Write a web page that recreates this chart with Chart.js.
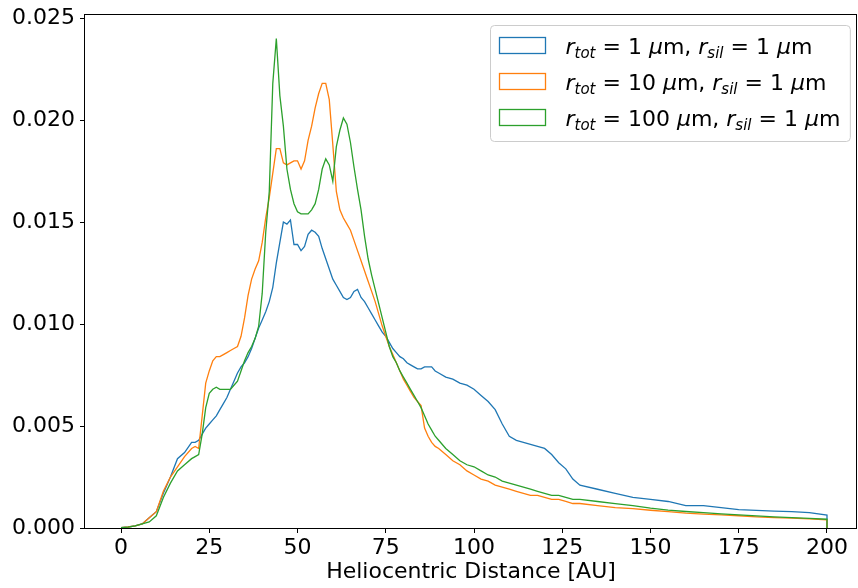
<!DOCTYPE html>
<html>
<head>
<meta charset="utf-8">
<script src="https://cdn.jsdelivr.net/npm/chart.js@4.4.1/dist/chart.umd.min.js"></script>
<style>
html,body{margin:0;padding:0;background:#fff;}
canvas{display:block;}
</style>
</head>
<body>
<canvas id="c" width="858" height="588"></canvas>
<script>
// ---------- data ----------
const distance = [0,2,4,6,8,10,12,14,16,18,20,
21,22,23,24,25,26,27,28,29,30,
31,32,33,34,35,36,37,38,39,40,
41,42,43,44,45,46,47,48,49,50,
51,52,53,54,55,56,57,58,59,60,
61,62,63,64,65,66,67,68,69,70,
71,72,73,74,75,76,77,78,79,80,
81,82,83,84,85,86,87,88,89,90,
92,94,96,98,100,102,104,106,108,110,
112,114,116,118,120,122,124,126,128,130,
135,140,145,150,155,160,165,170,175,180,185,190,195,200];

const series1um = [0.00002,0.00005,0.0001,0.0002,0.0005,0.0008,0.0017,0.0025,0.0034,0.0037,0.0042,
0.0042,0.0043,0.0046,0.0049,0.0051,0.0053,0.0055,0.0058,0.0061,0.0064,
0.0068,0.0072,0.0076,0.0079,0.0081,0.0084,0.0088,0.0093,0.0098,0.0102,
0.0106,0.0111,0.0118,0.0130,0.0140,0.0150,0.0149,0.0151,0.0139,0.0139,
0.0136,0.0138,0.0144,0.0146,0.0145,0.0143,0.0137,0.0132,0.0127,0.0122,
0.0119,0.0116,0.0113,0.0112,0.0113,0.0116,0.0117,0.0113,0.0111,0.0108,
0.0105,0.0102,0.0099,0.0096,0.0094,0.0091,0.0088,0.0086,0.0084,0.0083,
0.0081,0.0080,0.0079,0.0078,0.0078,0.0079,0.0079,0.0079,0.0077,0.0076,
0.0074,0.0073,0.0071,0.0070,0.0068,0.0065,0.0062,0.0058,0.0051,0.0045,
0.0043,0.0042,0.0041,0.0040,0.0039,0.0036,0.0032,0.0029,0.0024,0.0021,
0.0019,0.0017,0.0015,0.0014,0.0013,0.0011,0.0011,0.0010,0.0009,0.00086,0.00083,0.0008,0.00075,0.00063];

const series10um = [0.00002,0.00005,0.0001,0.0002,0.0005,0.0008,0.0018,0.0025,0.0030,0.0035,0.0039,
0.0040,0.0039,0.0055,0.0071,0.0077,0.0082,0.0084,0.0084,0.0085,0.0086,
0.0087,0.0088,0.0089,0.0094,0.0103,0.0114,0.0122,0.0127,0.0131,0.0140,
0.0152,0.0162,0.0174,0.0186,0.0186,0.0179,0.0178,0.0179,0.0180,0.0180,
0.0176,0.0180,0.0190,0.0197,0.0206,0.0213,0.0218,0.0218,0.0210,0.0188,
0.0165,0.0156,0.0152,0.0149,0.0146,0.0141,0.0136,0.0131,0.0126,0.0121,
0.0116,0.0111,0.0105,0.0099,0.0094,0.0089,0.0085,0.0081,0.0077,0.0073,
0.0070,0.0067,0.0064,0.0062,0.0060,0.0049,0.0045,0.0042,0.0040,0.0039,
0.0036,0.0033,0.0031,0.0028,0.0026,0.0024,0.0023,0.0021,0.0020,0.0019,
0.0018,0.0017,0.0016,0.0016,0.0015,0.0014,0.0014,0.0013,0.0012,0.0012,
0.0011,0.0010,0.00095,0.00087,0.0008,0.00073,0.00068,0.00064,0.0006,0.00055,0.00051,0.00048,0.00045,0.0004];

const series100um = [0.00002,0.00004,0.0001,0.0002,0.0003,0.0006,0.0015,0.0022,0.0028,0.0031,0.0034,
0.0035,0.0036,0.0046,0.0059,0.0066,0.0068,0.0069,0.0068,0.0068,0.0068,
0.0068,0.0070,0.0072,0.0077,0.0082,0.0086,0.0089,0.0093,0.0099,0.0115,
0.0145,0.0165,0.0218,0.0240,0.0212,0.0197,0.0176,0.0166,0.0159,0.0155,
0.0154,0.0154,0.0154,0.0156,0.0159,0.0166,0.0176,0.0181,0.0178,0.0170,
0.0187,0.0195,0.0201,0.0198,0.0189,0.0177,0.0166,0.0156,0.0143,0.0132,
0.0124,0.0117,0.0110,0.0103,0.0096,0.0089,0.0084,0.0081,0.0077,0.0074,
0.0071,0.0068,0.0065,0.0062,0.0059,0.0055,0.0051,0.0048,0.0045,0.0043,
0.0039,0.0036,0.0033,0.0031,0.0030,0.0028,0.0026,0.0025,0.0023,0.0022,
0.0021,0.0020,0.0019,0.0018,0.0017,0.0016,0.0016,0.0015,0.0014,0.0014,
0.0013,0.0012,0.0011,0.00097,0.00088,0.00081,0.00075,0.00069,0.00064,0.00059,0.00055,0.00051,0.00047,0.00043];

const legendLabels = [
  'r_{tot} = 1 μm, r_{sil} = 1 μm',
  'r_{tot} = 10 μm, r_{sil} = 1 μm',
  'r_{tot} = 100 μm, r_{sil} = 1 μm'
];
const seriesColors = ['#1f77b4', '#ff7f0e', '#2ca02c'];
const xTicks = [0, 25, 50, 75, 100, 125, 150, 175, 200];
const yTicks = [0, 0.005, 0.010, 0.015, 0.020, 0.025];
const xTitle = 'Heliocentric Distance [AU]';

// ---------- chart ----------
const FONT = 'DejaVu Sans';
const FS = 22;

function toPoints(ys) {
  const pts = distance.map((d, i) => ({x: d, y: ys[i]}));
  pts.push({x: distance[distance.length - 1], y: 0}); // histogram right edge
  return pts;
}

const allSeries = [series1um, series10um, series100um];
const datasets = allSeries.map((s, i) => ({
  label: legendLabels[i],
  data: toPoints(s),
  borderColor: seriesColors[i],
  backgroundColor: seriesColors[i],
  borderWidth: 1.3,
  pointRadius: 0,
  tension: 0,
  fill: false,
  order: allSeries.length - i
}));

function parseLabel(s) {
  const out = [];
  const re = /r_\{([^}]*)\}|μ|r|[^rμ]+/g;
  let m;
  while ((m = re.exec(s))) {
    if (m[1] !== undefined) { out.push({t: 'r', f: 'i'}); out.push({t: m[1], f: 's'}); }
    else if (m[0] === 'μ' || m[0] === 'r') out.push({t: m[0], f: 'i'});
    else out.push({t: m[0], f: 'n'});
  }
  return out;
}

const framePlugin = {
  id: 'frame',
  afterDatasetsDraw(chart) {
    const {ctx, chartArea: a} = chart;
    ctx.save();
    ctx.strokeStyle = '#000';
    ctx.lineWidth = 1;
    const l = Math.round(a.left) - 0.5, t = Math.round(a.top) + 0.5;
    const r = Math.round(a.right) - 0.5, b = Math.round(a.bottom) + 0.5;
    ctx.strokeRect(l, t, r - l, b - t);
    ctx.restore();
  }
};

const legendPlugin = {
  id: 'mathLegend',
  afterDraw(chart) {
    const {ctx, chartArea: a} = chart;
    const fonts = {
      n: `${FS}px "${FONT}"`,
      i: `italic ${FS}px "${FONT}"`,
      s: `italic ${Math.round(FS * 0.7)}px "${FONT}"`
    };
    ctx.save();
    const parsed = legendLabels.map(parseLabel);
    const widths = parsed.map(p => p.reduce((w, tk) => { ctx.font = fonts[tk.f]; return w + ctx.measureText(tk.t).width; }, 0));
    const maxW = Math.max(...widths);
    const textOff = 75, padR = 10;
    const boxW = textOff + maxW + padR;
    const boxH = 116;
    const boxX = Math.round(a.right - 7 - boxW) + 0.5;
    const boxY = Math.round(a.top + 11) + 0.5;
    ctx.beginPath();
    ctx.roundRect(boxX, boxY, boxW, boxH, 4);
    ctx.fillStyle = 'rgba(255,255,255,0.8)';
    ctx.fill();
    ctx.strokeStyle = '#cccccc';
    ctx.lineWidth = 1;
    ctx.stroke();
    parsed.forEach((p, i) => {
      const rowTop = boxY + 12 + i * 36;
      ctx.strokeStyle = seriesColors[i];
      ctx.lineWidth = 1.3;
      ctx.strokeRect(boxX + 9, rowTop, 46, 16);
      let x = boxX + textOff;
      const base = rowTop + 16;
      ctx.fillStyle = '#000';
      ctx.textBaseline = 'alphabetic';
      ctx.textAlign = 'left';
      p.forEach(tk => {
        ctx.font = fonts[tk.f];
        ctx.fillText(tk.t, x, tk.f === 's' ? base + 4 : base);
        x += ctx.measureText(tk.t).width;
      });
    });
    ctx.restore();
  }
};

new Chart(document.getElementById('c'), {
  type: 'line',
  data: {datasets},
  options: {
    responsive: false,
    animation: false,
    parsing: false,
    layout: {autoPadding: false, padding: {top: 14, right: 1, left: 0, bottom: 0}},
    plugins: {legend: {display: false}, tooltip: {enabled: false}},
    scales: {
      x: {
        type: 'linear',
        min: -10.2,
        max: 208.5,
        afterBuildTicks: s => { s.ticks = xTicks.map(v => ({value: v})); },
        afterFit: s => { s.height = 60; s.paddingLeft = 0; s.paddingRight = 0; },
        grid: {drawOnChartArea: false, drawTicks: true, tickLength: 5, color: '#000', lineWidth: 1},
        border: {display: false},
        ticks: {font: {family: FONT, size: FS}, color: '#000', padding: 2, maxRotation: 0, autoSkip: false,
                callback: v => String(v)},
        title: {display: true, text: xTitle, font: {family: FONT, size: FS}, color: '#000',
                padding: {top: 0, bottom: 3}}
      },
      y: {
        type: 'linear',
        min: 0,
        max: 0.0252,
        afterBuildTicks: s => { s.ticks = yTicks.map(v => ({value: v})); },
        afterFit: s => { s.width = 85; s.paddingTop = 0; s.paddingBottom = 0; },
        grid: {drawOnChartArea: false, drawTicks: true, tickLength: 5, color: '#000', lineWidth: 1},
        border: {display: false},
        ticks: {font: {family: FONT, size: FS}, color: '#000', padding: 5,
                callback: v => v.toFixed(3)}
      }
    }
  },
  plugins: [framePlugin, legendPlugin]
});
</script>
</body>
</html>
